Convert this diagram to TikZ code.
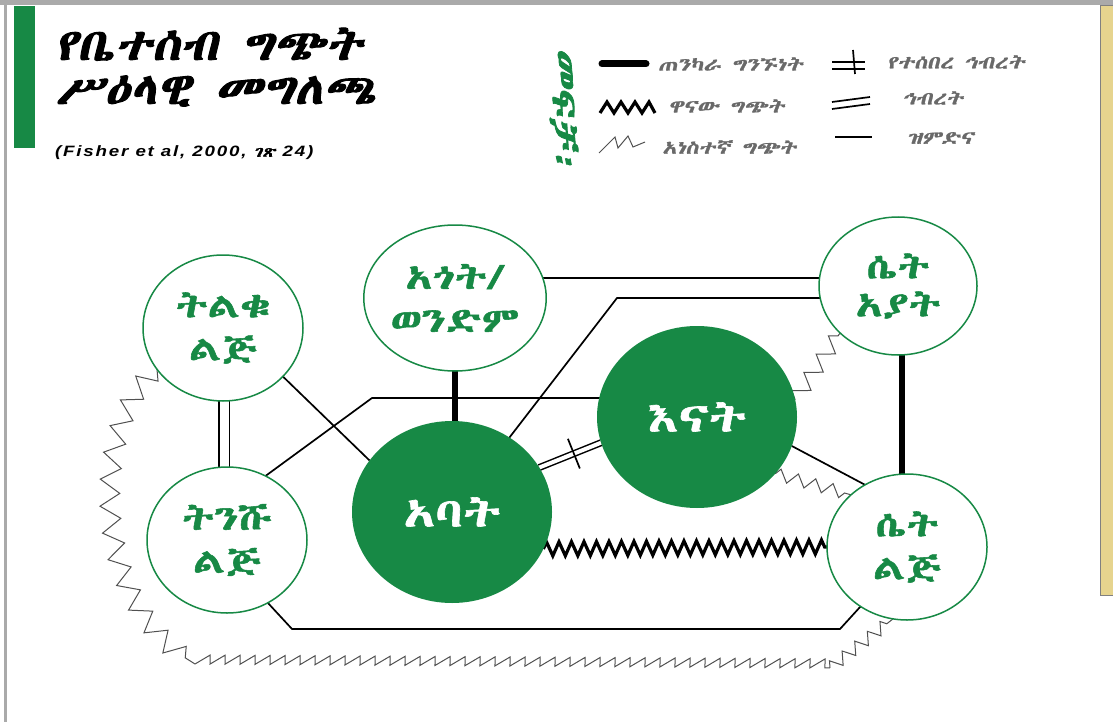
\documentclass[tikz,border=0pt]{standalone}
\usepackage{fontspec}
\usetikzlibrary{decorations.pathmorphing,backgrounds,calc,shapes.geometric}
\setmainfont{Liberation Sans}
\newfontfamily\citefont{Liberation Sans}[FakeStretch=1.25, LetterSpace=12]
\newcommand\defethfams[1]{%
  \newfontfamily\ethnode{#1}[FakeBold=1.6, FakeStretch=1.3]%
  \newfontfamily\ethtitle{#1}[FakeBold=2.2, FakeSlant=0.2, FakeStretch=1.17]%
  \newfontfamily\ethleg{#1}[FakeBold=1.3, FakeSlant=0.2, FakeStretch=1.3]%
  \newfontfamily\ethcite{#1}[FakeBold=1.6, FakeSlant=0.2, FakeStretch=1.25]}
\IfFontExistsTF{Abyssinica SIL}{\defethfams{Abyssinica SIL}}{%
  \IfFontExistsTF{FreeSerif}{\defethfams{FreeSerif}}{\defethfams{DejaVu Sans}}}
\definecolor{ggreen}{RGB}{23,137,69}
\definecolor{framegray}{RGB}{170,170,170}
\definecolor{tanfill}{RGB}{230,212,142}
\definecolor{legtext}{RGB}{105,105,105}
\definecolor{minorgray}{RGB}{80,80,80}
\tikzset{
  wnode/.style={ellipse, draw=ggreen, line width=1.5pt, fill=white, inner sep=0pt, outer sep=0pt,
    minimum width=160pt, minimum height=146pt, align=center, text=ggreen,
    font=\ethnode\fontsize{34}{43}\selectfont},
  gnode/.style={ellipse, fill=ggreen, inner sep=0pt, outer sep=0pt,
    minimum width=200pt, minimum height=182pt, align=center, text=white,
    font=\ethnode\fontsize{40}{44}\selectfont},
  relline/.style={line width=1.7pt},
  strongline/.style={line width=6pt},
  allyline/.style={double=white, line width=1.7pt},
  majorzz/.style={line width=3.2pt, decorate, decoration={zigzag, amplitude=7pt, segment length=12.5pt}},
  minorzz/.style={line width=1pt, draw=minorgray, decorate},
  legtxt/.style={anchor=west, inner sep=0pt, text=legtext, font=\ethleg\fontsize{18}{20}\selectfont},
  titletxt/.style={anchor=base west, inner sep=0pt, text height=28pt, text depth=3pt, font=\ethtitle\fontsize{44}{46}\selectfont},
}
\begin{document}
\begin{tikzpicture}[x=1pt,y=-1pt]
\useasboundingbox (0,0) rectangle (1113,722);
% frame
\fill[framegray] (0,0) rectangle (1113,5);
\fill[framegray] (4,0) rectangle (7,722);
\fill[ggreen] (14,6) rectangle (35,148);
\filldraw[fill=tanfill, draw=gray, line width=1pt] (1100,6) rectangle (1118,595);
% title
\node[titletxt] (t1) at (55,60) {የቤተሰብ ግጭት};
\node[titletxt] (t2) at (55,104) {ሥዕላዊ መግለጫ};
\node[anchor=west, inner sep=0pt, font=\citefont\bfseries\itshape\fontsize{15}{17}\selectfont] (cite) at (55,153) {(Fisher et al, 2000, {\ethcite ገጽ} 24)};
% legend
\node[rotate=-90, inner sep=0pt, text=ggreen, font=\ethtitle\fontsize{36}{38}\selectfont] (leg) at (564,110) {መፍቻ፡};
\draw[line width=7pt, line cap=round] (602,64) -- (646,64);
\node[legtxt] (l1) at (658,64) {ጠንካራ ግንኙነት};
\draw[line width=3.2pt, line join=miter] (600,113) -- (607,102) -- (614,113) -- (621,102) -- (628,113) -- (635,102) -- (642,113) -- (649,102) -- (655,113);
\node[legtxt] (l2) at (668,106) {ዋናው ግጭት};
\draw[line width=1pt, draw=minorgray] (599,153) -- (615,137) -- (618,148) -- (628,136) -- (633,147) -- (645,142);
\node[legtxt] (l3) at (662,147) {አነስተኛ ግጭት};
\draw[relline] (832,62) -- (865,62);
\draw[relline] (832,69) -- (865,69);
\draw[relline] (853,50) -- (855,74);
\node[legtxt] (l4) at (887,62) {የተሰበረ ኅብረት};
\draw[relline] (832,102) -- (870,97);
\draw[relline] (832,109) -- (870,104);
\node[legtxt] (l5) at (902,98) {ኅብረት};
\draw[relline] (835,137) -- (872,137);
\node[legtxt] (l6) at (907,138) {ዝምድና};
% nodes
\node[wnode] (tl) at (223,328) {ትልቁ\\ልጅ};
\node[wnode] (un) at (455,298) {አጎት/\\ወንድም};
\node[wnode, minimum width=158pt, minimum height=138pt, font=\ethnode\fontsize{34}{38}\selectfont] (ga) at (898,286) {ሴት\\አያት};
\node[gnode] (mo) at (697,417) {እናት};
\node[gnode] (fa) at (452,512) {አባት};
\node[wnode] (ys) at (227,540) {ትንሹ\\ልጅ};
\node[wnode] (da) at (907,547) {ሴት\\ልጅ};
% bend points
\coordinate (c1) at (372,398);
\coordinate (c2) at (617,298);
\coordinate (c3) at (292,629);
\coordinate (c4) at (840,629);
\coordinate (b1) at (195,664);
\coordinate (b2) at (830,668);
\begin{pgfonlayer}{background}
\fill[white] (0,0) rectangle (1113,722);
% strong
\draw[strongline] (un.center) -- (un.center |- fa.center);
\draw[strongline] ([xshift=4pt]ga.center) -- ([xshift=4pt]ga.center |- da.center);
% alliance
\draw[allyline, double distance=9pt] ([xshift=1pt]tl.center) -- ([xshift=1pt]tl.center |- ys.center);
% broken alliance
\draw[allyline, line width=1.5pt, double distance=4pt] (fa.27) -- (mo.195);
\coordinate (bm) at ($(fa.27)!0.56!(mo.195)$);
\draw[relline] ($(bm)!16pt!90:(mo.195)$) -- ($(bm)!16pt!-90:(mo.195)$);
% relationships
\draw[relline] (tl.-39) -- (fa.148);
\draw[relline] (ys.59) -- (c1) -- (c1 -| mo.center);
\draw[relline] (fa.center) -- (c2) -- (c2 -| ga.center);
\draw[relline] ([yshift=20pt]un.center) -- ([yshift=20pt]un.center -| ga.center);
\draw[relline] (mo.-17) -- (da.124);
\draw[relline] (ys.-57) -- (c3) -- (c4) -- (da.232);
% major conflict
\draw[majorzz] (fa.-22) -- (da.west);
% minor conflicts
\draw[minorzz, decoration={zigzag, amplitude=8pt, segment length=22pt}] (mo.10) -- (ga.219);
\draw[minorzz, decoration={zigzag, amplitude=6pt, segment length=18pt}] (mo.-36) -- (da.137);
\draw[minorzz, decoration={zigzag, amplitude=10pt, segment length=26pt}] (tl.212) .. controls (92,420) and (85,600) .. (b1);
\draw[minorzz, decoration={saw, amplitude=9pt, segment length=15pt}] (b1) -- (b2);
\draw[minorzz, decoration={zigzag, amplitude=6pt, segment length=16pt}] (b2) -- (da.259);
\end{pgfonlayer}
\end{tikzpicture}
\end{document}
